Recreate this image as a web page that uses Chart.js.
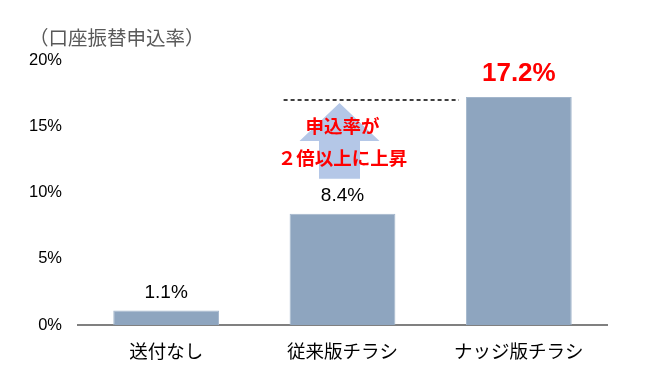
<!DOCTYPE html>
<html>
<head>
<meta charset="utf-8">
<script src="https://cdn.jsdelivr.net/npm/chart.js@4"></script>
<style>
  html, body { margin: 0; padding: 0; background: #fff; }
  #wrap { width: 650px; height: 373px; }
</style>
</head>
<body>
<div id="wrap"><canvas id="rateChart" width="650" height="373"></canvas></div>
<script>
'use strict';

let categories = ['送付なし', '従来版チラシ', 'ナッジ版チラシ'];
let rates = [1.1, 8.4, 17.2];
let yTicks = [0, 5, 10, 15, 20];
let unitTitle = '（口座振替申込率）';
let noteLines = ['申込率が', '２倍以上に上昇'];

const fontFamily = '"Liberation Sans", Arial, "Noto Sans CJK JP", sans-serif';

// title, value labels, dashed line, arrow and the red note
let extrasPlugin = {
  id: 'extras',
  afterDatasetsDraw(chart) {
    let ctx = chart.ctx;
    let ys = chart.scales.y;
    let meta = chart.getDatasetMeta(0);

    ctx.save();
    ctx.textBaseline = 'middle';

    // axis title at top left
    ctx.fillStyle = '#595959';
    ctx.font = '19.5px ' + fontFamily;
    ctx.textAlign = 'left';
    ctx.fillText(unitTitle, 29, 40);

    // value labels
    ctx.textAlign = 'center';
    for (let i = 0; i < rates.length; i++) {
      let bar = meta.data[i];
      let last = i === rates.length - 1;
      ctx.fillStyle = last ? '#ff0000' : '#000';
      ctx.font = (last ? 'bold 26px ' : '19px ') + fontFamily;
      ctx.fillText(rates[i].toFixed(1) + '%', bar.x, bar.y - (last ? 23 : 18));
    }

    // dashed reference line at the top bar
    let top = ys.getPixelForValue(rates[2]) + 3;
    let b1 = meta.data[1];
    let b2 = meta.data[2];
    ctx.strokeStyle = '#000';
    ctx.lineWidth = 1.5;
    ctx.setLineDash([4, 3]);
    ctx.beginPath();
    ctx.moveTo(b1.x - b1.width / 2 - 6, top);
    ctx.lineTo(b2.x - b2.width / 2 - 7, top);
    ctx.stroke();
    ctx.setLineDash([]);

    // up arrow
    let cx = b1.x - 3;
    let headTop = top + 3;
    let headBase = top + 41;
    let tailBottom = ys.getPixelForValue(rates[1]) - 35;
    ctx.fillStyle = '#b4c7e7';
    ctx.beginPath();
    ctx.moveTo(cx, headTop);
    ctx.lineTo(cx + 40, headBase);
    ctx.lineTo(cx + 20.5, headBase);
    ctx.lineTo(cx + 20.5, tailBottom);
    ctx.lineTo(cx - 20.5, tailBottom);
    ctx.lineTo(cx - 20.5, headBase);
    ctx.lineTo(cx - 40, headBase);
    ctx.closePath();
    ctx.fill();

    // red note
    ctx.fillStyle = '#ff0000';
    ctx.font = 'bold 18.5px ' + fontFamily;
    ctx.fillText(noteLines[0], cx + 3, top + 28);
    ctx.fillText(noteLines[1], cx + 3, top + 60);

    ctx.restore();
  }
};

let config = {
  type: 'bar',
  data: {
    labels: categories,
    datasets: [
      {
        data: rates,
        backgroundColor: '#8ea5bf',
        borderColor: '#a3b6cc',
        borderWidth: 1,
        barPercentage: 0.6,
        categoryPercentage: 1
      }
    ]
  },
  options: {
    responsive: false,
    animation: false,
    devicePixelRatio: 1,
    layout: {
      padding: { top: 60, right: 43, bottom: 0, left: 0 }
    },
    plugins: {
      legend: { display: false },
      tooltip: { enabled: false }
    },
    scales: {
      x: {
        afterFit(scale) {
          scale.height = 48;
        },
        grid: { display: false, drawTicks: false },
        border: { display: true, color: '#808080', width: 2 },
        ticks: {
          color: '#000',
          padding: 17,
          font: { family: fontFamily, size: 18.5 }
        }
      },
      y: {
        min: yTicks[0],
        max: yTicks[yTicks.length - 1],
        afterBuildTicks(scale) {
          scale.ticks = yTicks.map(v => ({ value: v }));
        },
        afterFit(scale) {
          scale.width = 78;
        },
        grid: { display: false, drawTicks: false },
        border: { display: false },
        ticks: {
          color: '#000',
          padding: 16,
          font: { family: fontFamily, size: 16.5 },
          callback: v => v + '%'
        }
      }
    }
  },
  plugins: [extrasPlugin]
};

let rateChart = new Chart(document.getElementById('rateChart'), config);
</script>
</body>
</html>
